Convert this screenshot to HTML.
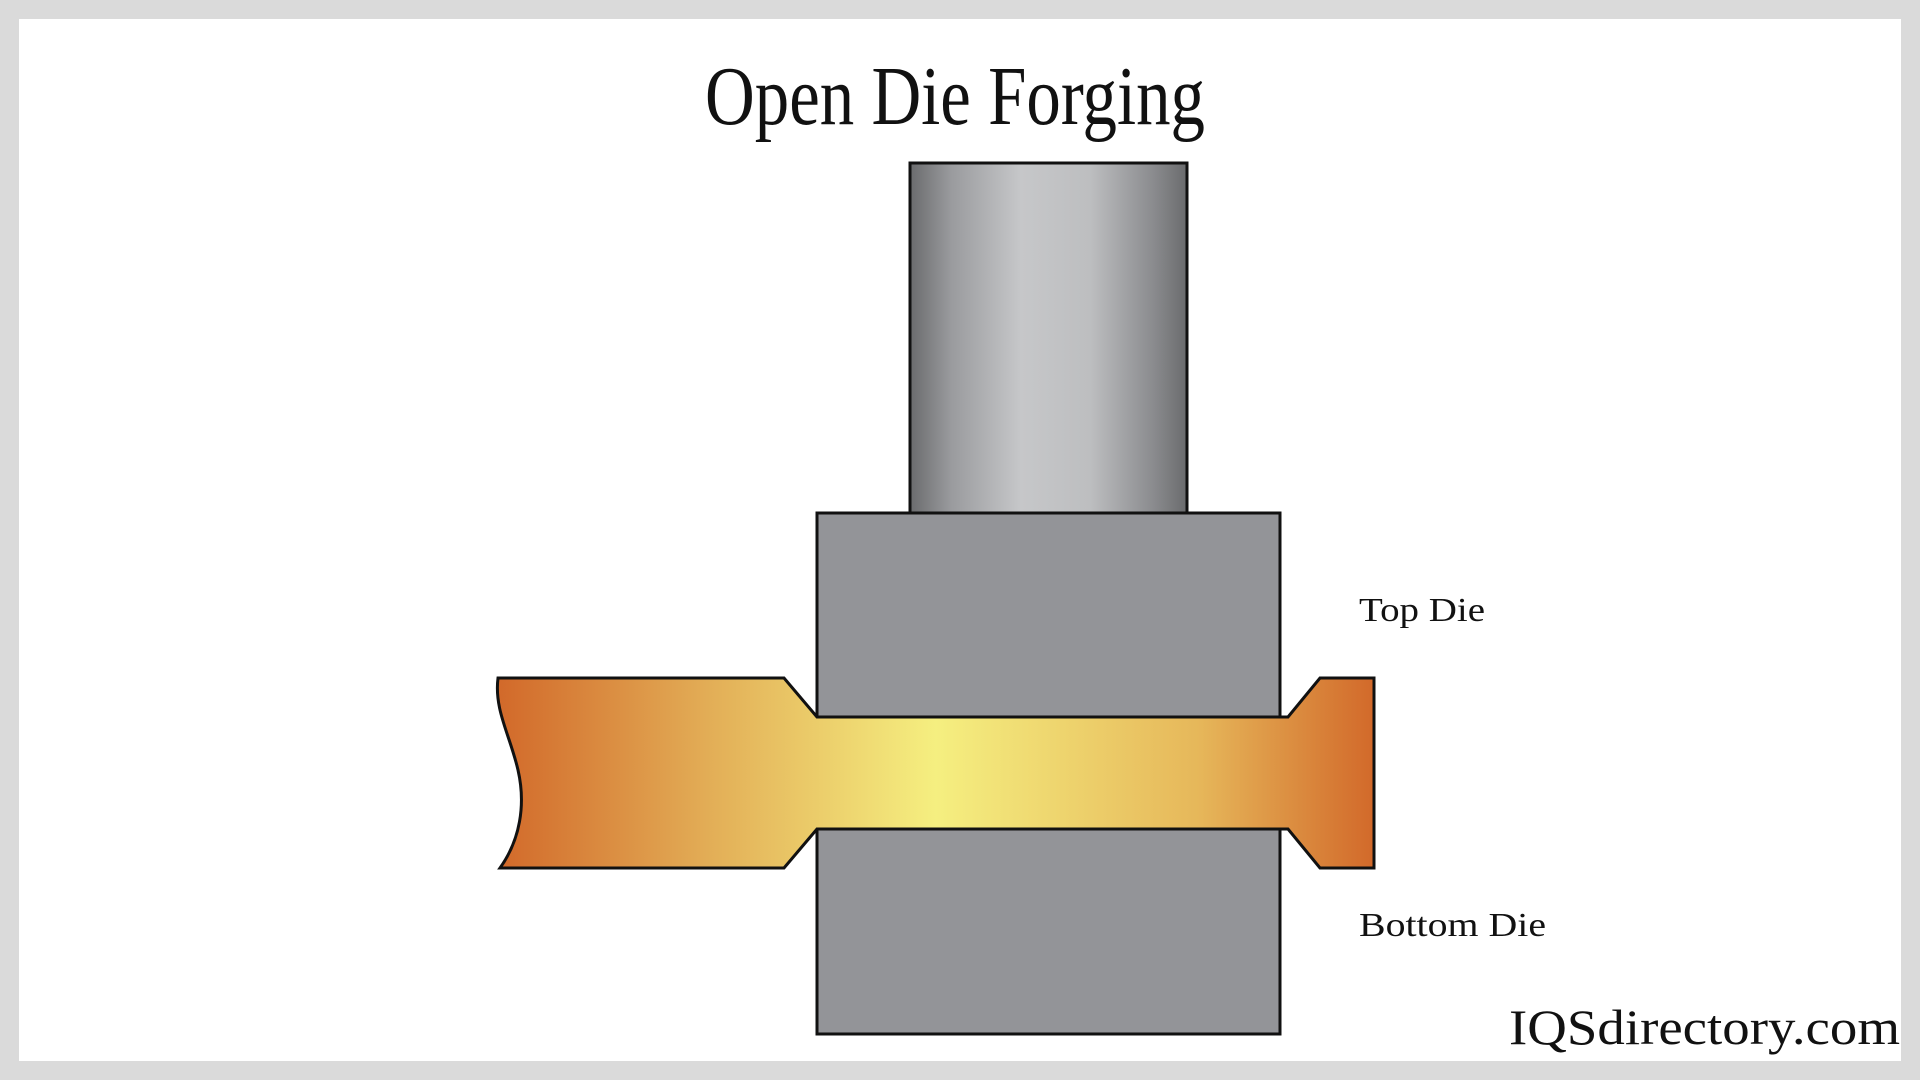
<!DOCTYPE html>
<html><head><meta charset="utf-8"><style>
html,body{margin:0;padding:0;background:#dadada;}
.wrap{width:1920px;height:1080px;position:relative;overflow:hidden;background:#dadada;}
</style></head><body><div class="wrap">
<svg width="1920" height="1080" viewBox="0 0 1920 1080" xmlns="http://www.w3.org/2000/svg">
<defs>
<linearGradient id="cyl" x1="0" x2="1" y1="0" y2="0">
<stop offset="0" stop-color="#6a6b6d"/>
<stop offset="0.15" stop-color="#9a9b9e"/>
<stop offset="0.4" stop-color="#c6c7c9"/>
<stop offset="0.65" stop-color="#bdbec0"/>
<stop offset="0.88" stop-color="#8a8b8e"/>
<stop offset="1" stop-color="#6a6b6d"/>
</linearGradient>
<linearGradient id="hot" gradientUnits="userSpaceOnUse" x1="498" x2="1374" y1="0" y2="0">
<stop offset="0" stop-color="#d2692a"/>
<stop offset="0.25" stop-color="#e3b058"/>
<stop offset="0.5" stop-color="#f5ef80"/>
<stop offset="0.8" stop-color="#e6b75a"/>
<stop offset="1" stop-color="#d2692a"/>
</linearGradient>
</defs>
<rect x="19" y="19" width="1882" height="1042" fill="#ffffff"/>
<text x="955" y="124" text-anchor="middle" font-family="Liberation Serif, serif" font-size="84" fill="#111" transform="translate(955,0) scale(0.82,1) translate(-955,0)">Open Die Forging</text>
<rect x="910" y="163" width="277" height="350" fill="url(#cyl)" stroke="#111" stroke-width="3"/>
<rect x="817" y="513" width="463" height="205" fill="#939498" stroke="#111" stroke-width="3"/>
<rect x="817" y="829" width="463" height="205" fill="#939498" stroke="#111" stroke-width="3"/>
<path d="M498,678 L784,678 L817,717 L1288,717 L1320,678 L1374,678 L1374,868 L1320,868 L1288,829 L817,829 L784,868 L500,868 C520,840 526,805 518,770 C510,735 494,710 498,678 Z" fill="url(#hot)" stroke="#111" stroke-width="3" stroke-linejoin="miter"/>
<text x="1359" y="621" font-family="Liberation Serif, serif" font-size="34" fill="#111" textLength="126" lengthAdjust="spacingAndGlyphs">Top Die</text>
<text x="1359" y="936" font-family="Liberation Serif, serif" font-size="34" fill="#111" textLength="187" lengthAdjust="spacingAndGlyphs">Bottom Die</text>
<text x="1509" y="1044" font-family="Liberation Serif, serif" font-size="50" fill="#111" textLength="391" lengthAdjust="spacingAndGlyphs">IQSdirectory.com</text>
</svg>
</div></body></html>
